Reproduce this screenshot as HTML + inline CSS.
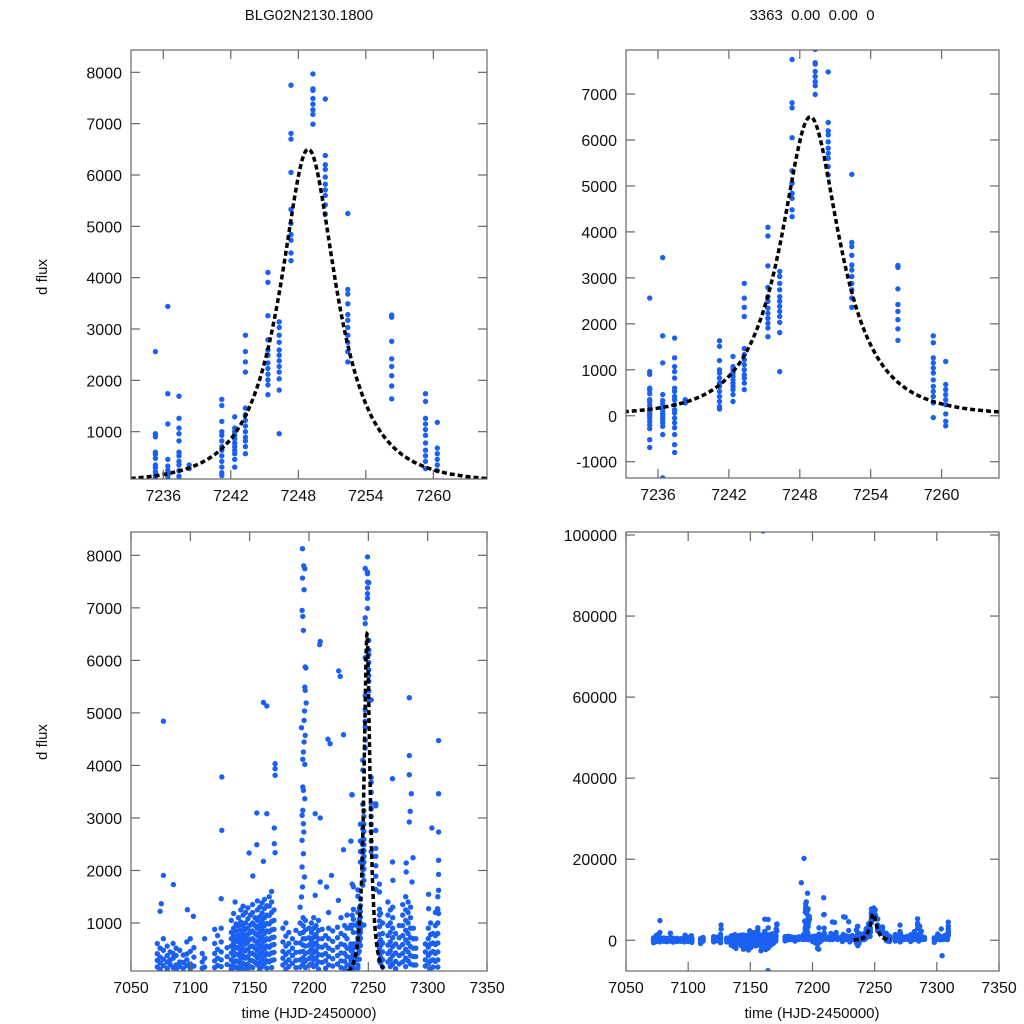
<!DOCTYPE html>
<html><head><meta charset="utf-8">
<style>
html,body{margin:0;padding:0;background:#fff;width:1024px;height:1024px;overflow:hidden;}
svg{display:block;font-family:"Liberation Sans",Arial,sans-serif;overflow:hidden;}
</style></head>
<body>
<svg id="chart" width="1024" height="1024" viewBox="0 0 1024 1024" xmlns="http://www.w3.org/2000/svg">
<rect x="0" y="0" width="1024" height="1024" fill="#fff"/>
<text x="309" y="20" font-size="15" text-anchor="middle" fill="#111">BLG02N2130.1800</text>
<text x="812" y="20" font-size="15" text-anchor="middle" fill="#111" xml:space="preserve">3363  0.00  0.00  0</text>
<text x="47" y="277" font-size="15" text-anchor="middle" fill="#111" transform="rotate(-90 47 277)">d flux</text>
<text x="47" y="742" font-size="15" text-anchor="middle" fill="#111" transform="rotate(-90 47 742)">d flux</text>
<text x="309" y="1018" font-size="15" text-anchor="middle" fill="#111">time (HJD-2450000)</text>
<text x="812" y="1018" font-size="15" text-anchor="middle" fill="#111">time (HJD-2450000)</text>
</svg>
<script>
// zoomed-window nights (shared by the two top panels)
const zoomTimes = [7235.3, 7236.4, 7237.4, 7238.3, 7241.2, 7242.35, 7243.3, 7245.3, 7246.3, 7247.35, 7249.3, 7250.4, 7252.4, 7256.3, 7259.3, 7260.35];
const zoomValues = [
 [2560,960,900,600,560,480,350,300,220,150,100,50,0,-50,-120,-200,-280,-520,-690],
 [3440,1740,1150,460,330,250,180,120,60,20,-30,-80,-150,-230,-410,-1350],
 [1690,1260,1070,960,820,600,530,420,350,240,130,60,-50,-150,-260,-410,-630,-800],
 [350,280],
 [1630,1510,1200,1000,930,820,710,640,530,420,310,200,145],
 [1290,1070,1000,930,860,780,710,640,570,460,310],
 [2880,2560,2360,2160,1460,1330,1220,1110,1000,890,820,710,570],
 [4100,3910,3260,2790,2590,2490,2340,2230,2120,2010,1910,1720],
 [3140,3030,2880,2740,2590,2490,2380,2270,2160,2030,1810,960],
 [7750,6810,6700,6050,5330,5060,4840,4730,4480,4330],
 [7970,7680,7650,7490,7380,7270,7180,6990],
 [7480,6380,6200,6110,5960,5820,5710,5600,5420,5240],
 [5250,3770,3680,3490,3280,3170,3030,2880,2740,2560,2360],
 [3270,3230,2760,2420,2270,2090,1890,1640],
 [1740,1590,1260,1150,1040,930,780,640,530,420,280,-40],
 [1180,680,570,460,350,240,40,-120,-220]
];
// full-season nights (bottom panels)
const seasonTimes = [7072.2,7074.5,7077.3,7080.5,7083,7085.5,7088,7091,7094,7097,7100,7103,7110,7112,7120.5,7123,7126,7131,7134.5,7136.5,7138.5,7140.5,7142.5,7144.5,7146.5,7148.5,7150.5,7152.5,7154.5,7156.5,7158.5,7160.5,7162.5,7164.5,7166.5,7168.5,7170.5,7178,7180.5,7183,7186,7189,7192.5,7195,7197,7200,7202,7204,7206,7208,7211,7214,7216.5,7220,7224,7227,7230,7232,7262,7266.5,7268.5,7270.5,7273,7276,7279,7281.5,7283.5,7285.5,7288,7290,7298,7300.5,7302.5,7304.5,7306.5,7308.5];
const seasonValues = [
 [607,416,289,162,-200,-600],[350,520,240,120,-300],[700,480,310,190,-150,-400],[560,380,260,140,90,-250],
 [450,300,210,-350,-100],[610,420,330,150,-200],[520,380,200,110,-450],[480,260,170,-300,-150],
 [390,250,140,-250],[640,410,300,190,-100,-400],[700,460,220,130,-300],[530,350,180,-200,-500],
 [420,260,140,-800,-300],[700,330,160,-200],[880,610,420,280,150,-250,-400],[760,500,330,190,-100],
 [900,640,450,300,170,-300,-600],[530,360,210,-400],[1050,820,700,560,430,300,180,120,-200,-800,-1200],
 [1180,900,760,620,500,380,250,150,-300,-1500,-600],[980,850,690,540,410,280,160,-400,-1000,-2000],
 [1100,940,770,640,520,390,260,130,-200,-900],[1250,1020,860,720,580,450,320,190,-500,-1300],
 [1320,1150,950,800,660,510,380,230,110,-700,-2200],[1200,1000,880,720,600,470,330,200,-300,-1600],
 [1290,1080,900,780,640,500,360,220,140,-900,-2400],[1150,960,820,690,550,420,290,170,-600,-1800],
 [1350,1200,1000,850,700,560,420,280,150,-400,-1100],[1100,950,800,660,520,390,250,-200,-1400],
 [1420,1250,1050,900,760,610,480,340,200,-800],[1300,1120,960,820,680,540,400,260,120,-1500,-2600],
 [1380,1190,1030,880,730,590,450,310,170,-500,-2100],[1450,1280,1100,950,800,660,510,370,230,-1000,-2300],
 [1330,1150,990,850,700,560,420,280,140,-600,-1900],[1500,1320,1140,980,830,690,540,400,260,-300,-1200],
 [1600,1400,1200,1030,870,720,580,430,290,150,-800],[1250,1050,880,730,590,440,300,-200],
 [900,640,460,330,200,-150],[1000,750,560,400,250,120],[820,610,450,300,170],[700,520,380,230,-200],
 [860,620,440,290,150],[1300,1000,800,620,450,300,160],[1100,950,820,700,580,460,340,220],
 [1050,870,700,560,420,280,150],[900,720,580,450,320,190,-300],[1000,820,650,500,360,220,-600],
 [1100,900,730,580,440,300,170,-1000,-2000],[950,780,620,480,340,200,-400],[1050,860,700,550,400,260,120],
 [880,700,540,390,250],[760,580,420,280,140],[1200,900,700,520,360,200],[850,650,480,320,180],
 [920,720,540,380,220,-300],[1100,800,600,430,280,150],[950,760,580,420,270,130,-400],[1150,900,700,520,360,200],
 [1000,800,620,450,300,160,-300],[1400,1150,950,760,580,420,260,-200],[1250,1000,820,640,470,310,170],
 [1300,1100,900,720,550,380,220,-400],[800,600,430,270,130],[950,720,540,380,220],
 [1350,1150,950,760,590,420,260,-300],[1500,1250,1050,860,680,500,330,170],[1400,1200,1000,800,620,450,280],
 [1300,1100,900,720,550,380,220,-200],[900,700,520,360,200],[700,520,360,200],[600,450,300,180,-500],
 [900,700,540,380,230],[1000,780,600,430,280,140],[800,620,460,300,160],[1200,950,760,590,420,270],
 [1500,1250,1000,800,620,450,300,160]
];
// isolated high/low points
const outlierTimes = [7077.3,7077.3,7075.5,7074.5,7085.7,7097.5,7102.6,7126.5,7126.5,7126,7149.5,7156,7161.6,7164.4,7156,7164.4,7171.4,7171.4,7171.4,7170.8,7170.8,7171.4,7161.6,7152.6,7137.7,
 7194.5,7196.5,7194.5,7195.9,7194.2,7194.8,7195.3,7196.8,7197.4,7196.5,7196.8,7197.6,7196.2,7195.9,7193.7,7196.8,7195.9,7195.3,7194.8,7196.5,7194.8,7195.3,7196.5,7194.8,7194.2,7195.3,7195.6,7194.2,7195.3,7194.2,7196.2,7194.5,7193.7,
 7209.4,7205.2,7209.4,7217.8,7226.3,7229.1,7236.1,7229.1,7235.3,7209.4,7205.2,7219,7214.8,7224.8,
 7270.4,7270.4,7270.7,7284.5,7284.5,7284.5,7286.2,7285.3,7284.5,7287.6,7281.9,7281.9,7286.8,7303.6,7309.2,7309.2,7309.2,7309.2,7309.2,7309.2,7300.8,7308.3,7309.2,7300.8,
 7160.2,7164.2,7193.2,7191,7196,7195,7194.5,7195.5,7209,7209,7225,7216,7304.2,7205];
const outlierValues = [4841,1907,1368,1222,1730,1254,1127,3779,2764,1463,2332,2491,5197,5131,3094,3081,4033,3938,3811,2808,2510,2338,2174,1895,1400,
 8127,7745,7567,7345,6952,6838,6571,5873,5854,5492,5429,5188,5036,4858,4718,4572,4445,4255,4116,4020,3589,3525,3367,3145,3050,2891,2732,2574,2320,2066,1876,1685,1495,
 6362,3081,3000,4414,5695,4585,3443,2396,2560,1780,1527,1907,1685,1431,
 3747,2161,1812,5289,4186,3824,3462,3126,2922,2244,2142,1971,1780,2808,4472,3462,2732,2193,1926,1622,1546,1273,1178,1273,
 101000,-7500,20200,14200,11600,9500,9000,7800,10500,6300,5800,4500,-3800,-2200];
// microlensing model parameters
const modelT0 = [7248.89];
const modelTE = [5.23];
const modelU0 = [0.5];
const modelFs = [5499];
const ticksTopX = [7236,7242,7248,7254,7260];
const ticksTLY = [1000,2000,3000,4000,5000,6000,7000,8000];
const ticksTRY = [-1000,0,1000,2000,3000,4000,5000,6000,7000];
const ticksBotX = [7050,7100,7150,7200,7250,7300,7350];
const ticksBLY = [1000,2000,3000,4000,5000,6000,7000,8000];
const ticksBRY = [0,20000,40000,60000,80000,100000];

const NS = 'http://www.w3.org/2000/svg';
const svg = document.getElementById('chart');
function mk(tag, attrs, parent){const e=document.createElementNS(NS,tag);for(const k in attrs)e.setAttribute(k,attrs[k]);(parent||svg).appendChild(e);return e;}
function model(t){const u=Math.sqrt(modelU0[0]*modelU0[0]+Math.pow((t-modelT0[0])/modelTE[0],2));const A=(u*u+2)/(u*Math.sqrt(u*u+4));return modelFs[0]*(A-1);}

function panel(p){
  const g=mk('g',{});
  
  
  const sx=t=>p.x0+(t-p.t0)/(p.t1-p.t0)*(p.x1-p.x0);
  const sy=v=>p.y1-(v-p.v0)/(p.v1-p.v0)*(p.y1-p.y0);
  const cid='clip-'+p.name;
  const cp=mk('clipPath',{id:cid},g);
  mk('rect',{x:p.x0,y:p.y0,width:p.x1-p.x0,height:p.y1-p.y0},cp);
  const dots=mk('g',{'clip-path':'url(#'+cid+')',fill:'#1a60f2'},g);
  
  
  const add=(t,v)=>{const X=sx(t),Y=sy(v);
    if(X<p.x0-4||X>p.x1+4||Y<p.y0-4||Y>p.y1+4)return;
    const c=mk('circle',{cx:X.toFixed(1),cy:Y.toFixed(1),r:2.7},dots);
    
    };
  p.sets.forEach(s=>{s.times.forEach((t,i)=>{s.values[i].forEach(v=>add(t,v));});});
  if(p.outliers){outlierTimes.forEach((t,i)=>add(t,outlierValues[i]));}
  let d='';const ta=7233.1,tb=p.curveEnd;
  for(let k=0;k<=400;k++){const t=ta+(tb-ta)*k/400;const Y=Math.min(p.y1+3,sy(model(t)));d+=(k?'L':'M')+sx(t).toFixed(1)+' '+Y.toFixed(1);}
  const cur=mk('path',{d:d,fill:'none',stroke:'#000','stroke-width':3.5,'stroke-dasharray':'5 3','clip-path':'url(#'+cid+')'},g);
  
  
  const fr=mk('rect',{x:p.x0,y:p.y0,width:p.x1-p.x0,height:p.y1-p.y0,fill:'none',stroke:'#666','stroke-width':1.2},g);
  
  
  p.xt.forEach(t=>{const x=sx(t);
    mk('line',{x1:x,x2:x,y1:p.y1,y2:p.y1-9,stroke:'#666','stroke-width':1.2},g);
    mk('line',{x1:x,x2:x,y1:p.y0,y2:p.y0+9,stroke:'#666','stroke-width':1.2},g);
    const tx=mk('text',{x:x,y:p.y1+22,'font-size':16,'text-anchor':'middle',fill:'#111'},g);
    
    
    tx.textContent=t;});
  p.yt.forEach(v=>{const y=sy(v);
    mk('line',{x1:p.x0,x2:p.x0+9,y1:y,y2:y,stroke:'#666','stroke-width':1.2},g);
    mk('line',{x1:p.x1,x2:p.x1-9,y1:y,y2:y,stroke:'#666','stroke-width':1.2},g);
    const tx=mk('text',{x:p.x0-9,y:y+6,'font-size':16,'text-anchor':'end',fill:'#111'},g);
    
    
    tx.textContent=v;});
}
const zoomSet={times:zoomTimes,values:zoomValues};
const seasonSet={times:seasonTimes,values:seasonValues};
panel({name:'panel-top-left',x0:131,x1:487,y0:50,y1:479,t0:7233.13,t1:7264.77,v0:78,v1:8435,xt:ticksTopX,yt:ticksTLY,sets:[zoomSet],curveEnd:7265});
panel({name:'panel-top-right',x0:626,x1:999,y0:50,y1:478,t0:7233.29,t1:7264.86,v0:-1354,v1:7957,xt:ticksTopX,yt:ticksTRY,sets:[zoomSet],curveEnd:7265});
panel({name:'panel-bottom-left',x0:131,x1:487,y0:532,y1:971,t0:7050,t1:7350,v0:86,v1:8444,xt:ticksBotX,yt:ticksBLY,sets:[seasonSet,zoomSet],outliers:true,curveEnd:7263});
panel({name:'panel-bottom-right',x0:626,x1:999,y0:532,y1:971,t0:7050,t1:7350,v0:-7586,v1:100741,xt:ticksBotX,yt:ticksBRY,sets:[seasonSet,zoomSet],outliers:true,curveEnd:7263});
</script>
</body></html>
